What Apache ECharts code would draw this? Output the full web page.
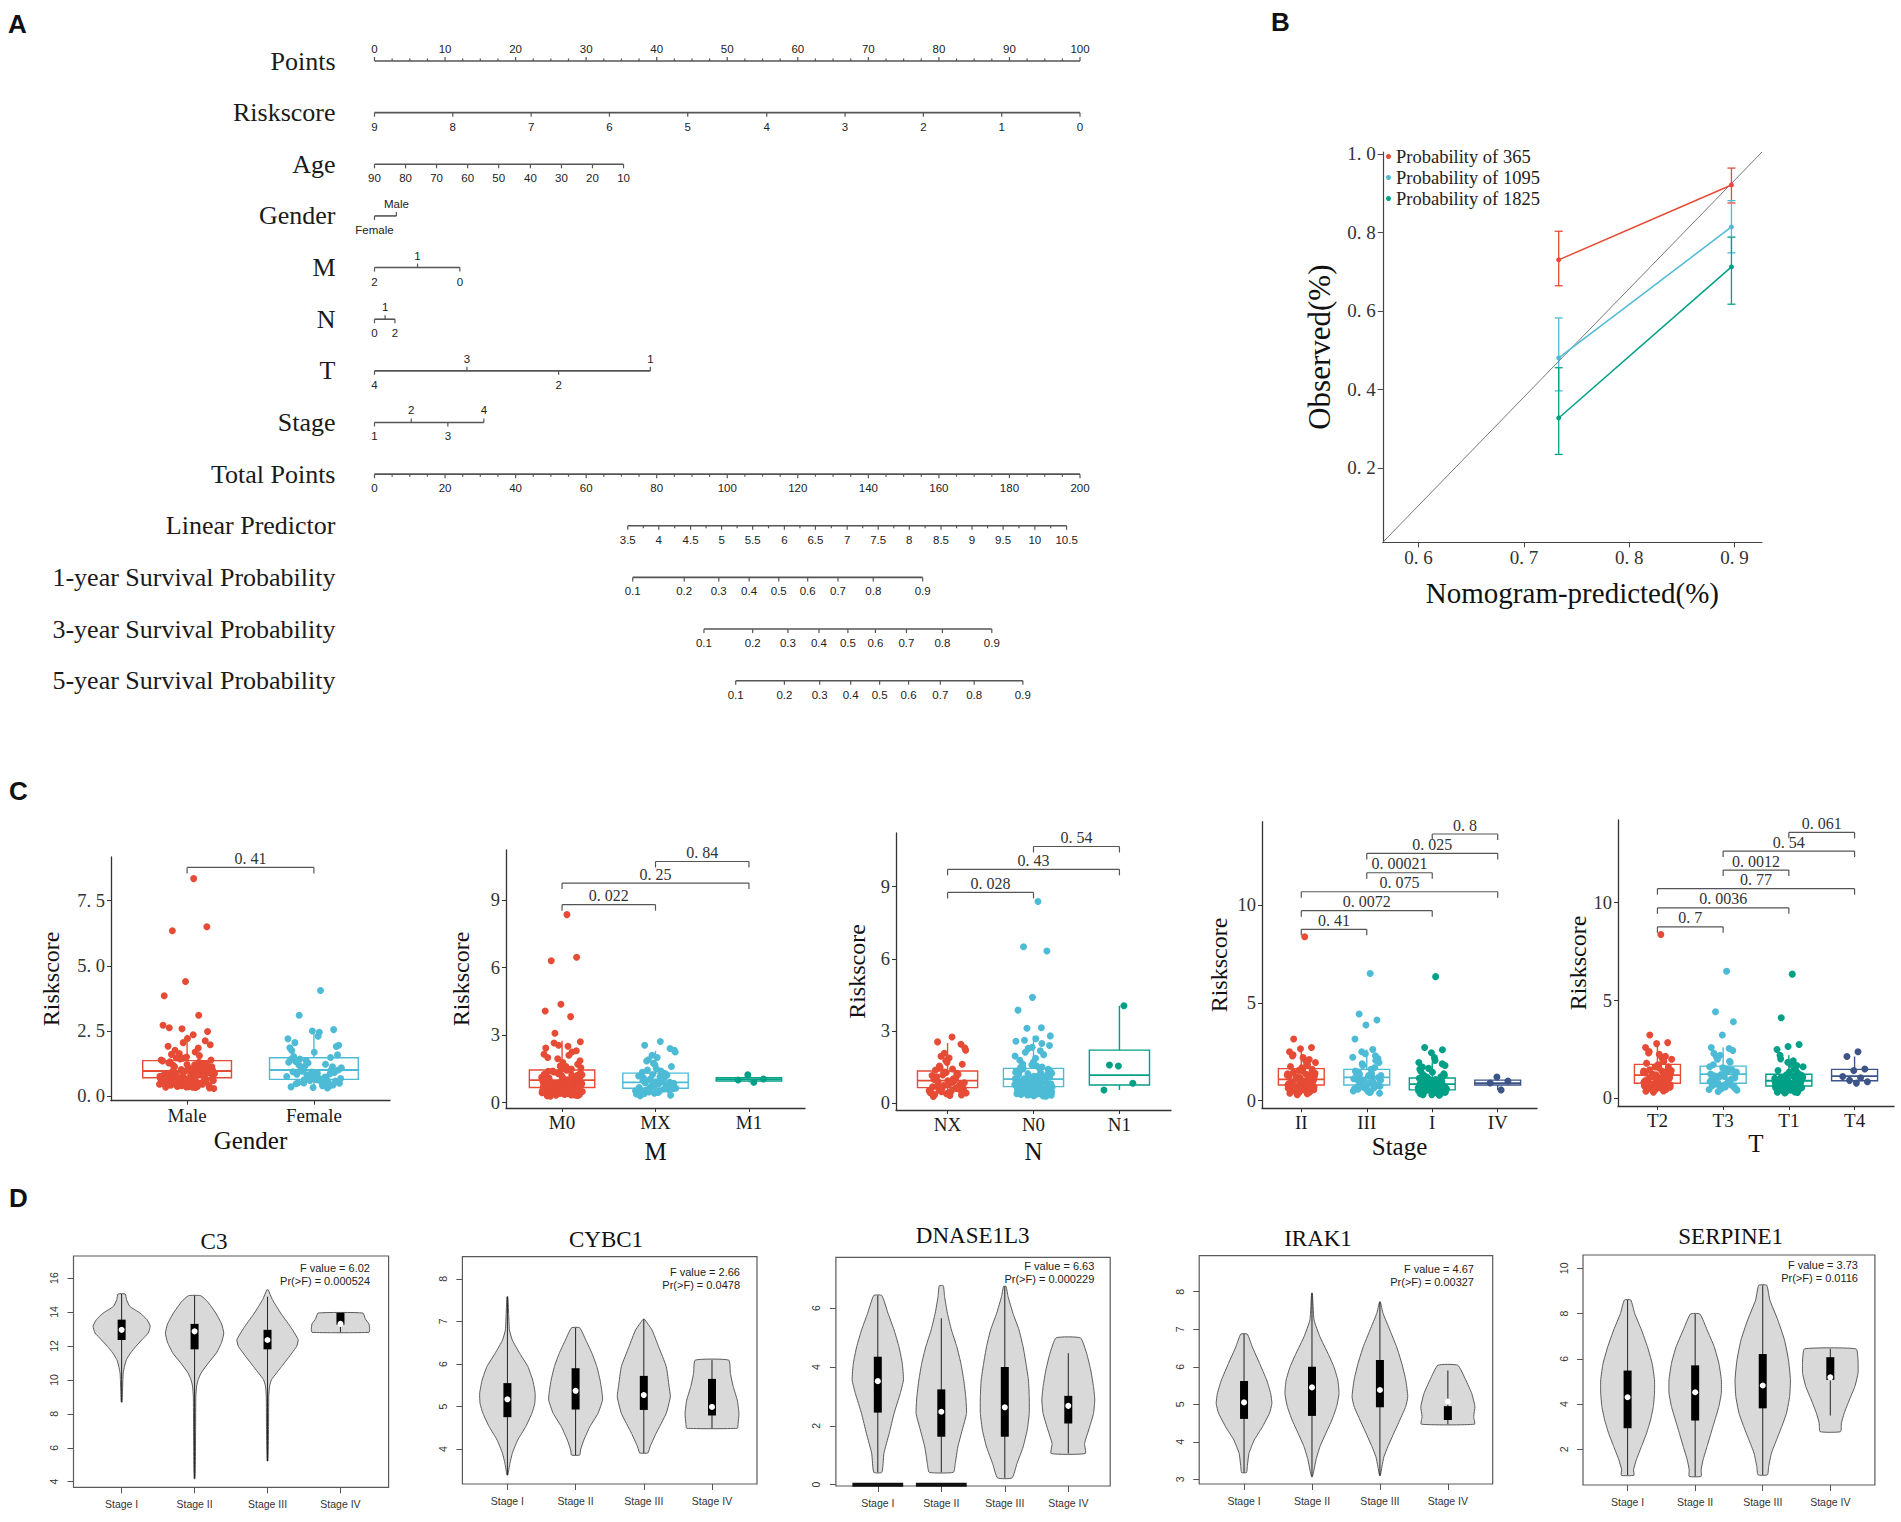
<!DOCTYPE html>
<html><head><meta charset="utf-8">
<script src="https://cdn.jsdelivr.net/npm/echarts@6/dist/echarts.min.js"></script>
<style>html,body{margin:0;padding:0;background:#fff}#c{width:1901px;height:1522px}</style>
</head><body><div id="c"></div><script>
const SERIF='"Liberation Serif","Times New Roman",Times,serif';
const SANS='"Liberation Sans",Arial,Helvetica,sans-serif';
const npg=['#E64B35','#4DBBD5','#00A087','#3C5488'];

// ---------------- Panel A : nomogram ----------------
const nomoRows=['Points','Riskscore','Age','Gender','M','N','T','Stage','Total Points','Linear Predictor','1-year Survival Probability','3-year Survival Probability','5-year Survival Probability'];
const pointsLabels=['0','10','20','30','40','50','60','70','80','90','100'];
const pointsPos=[0,10,20,30,40,50,60,70,80,90,100];
const riskLabels=['9','8','7','6','5','4','3','2','1','0'];
const riskPos=[0,11.1,22.2,33.3,44.4,55.6,66.7,77.8,88.9,100];
const ageLabels=['90','80','70','60','50','40','30','20','10'];
const agePos=[0,4.4,8.8,13.2,17.6,22.1,26.5,30.9,35.3];
const genderLabels=['Female','Male'];
const genderPos=[0,3.1];
const mLabels=['2','1','0'];
const mPos=[0,6.1,12.1];
const nLabels=['0','1','2'];
const nPos=[0,1.5,2.9];
const tLabels=['4','3','2','1'];
const tPos=[0,13.1,26.1,39.1];
const stageLabels=['1','2','3','4'];
const stagePos=[0,5.2,10.4,15.5];
const totalLabels=['0','20','40','60','80','100','120','140','160','180','200'];
const totalPos=[0,10,20,30,40,50,60,70,80,90,100];
const lpLabels=['3.5','4','4.5','5','5.5','6','6.5','7','7.5','8','8.5','9','9.5','10','10.5'];
const lpPos=[35.9,40.3,44.8,49.2,53.6,58.1,62.5,67.0,71.4,75.8,80.3,84.7,89.1,93.6,98.1];
const survLabels=['0.1','0.2','0.3','0.4','0.5','0.6','0.7','0.8','0.9'];
const surv1Pos=[36.6,43.9,48.8,53.1,57.3,61.4,65.7,70.7,77.7];
const surv3Pos=[46.7,53.6,58.6,63.0,67.1,71.0,75.4,80.5,87.5];
const surv5Pos=[51.2,58.1,63.1,67.5,71.6,75.7,80.2,85.0,91.9];

// ---------------- Panel B : calibration ----------------
const calX=[0.733,0.897];
const obs365=[0.730,0.921], lo365=[0.664,0.875], hi365=[0.803,0.964];
const obs1095=[0.480,0.814], lo1095=[0.396,0.748], hi1095=[0.582,0.881];
const obs1825=[0.327,0.712], lo1825=[0.234,0.617], hi1825=[0.455,0.788];
const calRef=[[0.566,0.01],[0.926,1.005]];
const calNames=['Probability of 365','Probability of 1095','Probability of 1825'];

// ---------------- Panel C : riskscore boxplots ----------------
const genderCats=['Male','Female'];
const maleScores=[8.35,6.35,6.5,4.4,3.85,3.1,0.42,1.12,0.78,2.62,0.55,0.91,1.38,0.33,0.67,1.05,2.21,0.48,0.84,1.63,0.29,0.96,0.71,1.24,0.58,2.72,0.37,1.47,0.88,0.62,1.91,0.45,1.02,0.76,0.52,1.18,2.48,0.35,0.81,1.55,0.64,0.99,0.4,1.31,0.73,2.05,0.57,0.93,1.76,0.31,1.08,0.69,0.5,1.42,0.86,2.35,0.61,1.15,0.44,0.79,1.84,0.38,0.97,0.66,1.27,0.54,2.58,0.74,1.69,0.47,0.9,1.21,0.34,0.83,1.52,0.6,1.0,0.41,2.12,0.7,1.35,0.53,0.87,1.97,0.36,0.77,1.1,0.63,
 0.45,0.72,0.95,1.18,0.58,0.83,1.3,0.38,0.66,1.05,0.5,0.9,1.45,0.62,0.77,1.12,0.42,0.99,0.55,1.25,0.7,0.86,0.34,1.6,0.6,0.94,0.48,1.08,0.74,1.38,0.52,0.81,1.02,0.4,0.68,1.2,0.57,0.89,1.5,0.64];
const femaleScores=[4.05,3.1,2.55,2.5,0.35,1.22,0.62,1.95,0.88,0.47,1.48,0.72,2.2,0.4,1.05,0.58,1.68,0.93,0.31,1.36,0.67,2.45,0.51,1.12,0.8,1.85,0.43,0.98,1.58,0.64,2.05,0.38,1.27,0.75,0.55,1.42,0.9,0.33,1.75,0.69,1.15,0.49,2.3,0.84,1.01,0.6,1.3,0.45,0.95,1.9,0.7,1.52,
 0.56,0.82,1.08,0.66,1.2,0.42,0.92,1.4,0.73,0.5,1.0,0.63,1.33,0.86];
const genderBox=[[0.28,0.70,0.96,1.36,2.35],[0.3,0.64,1.0,1.47,2.58]];
const genderP=[[1,2,8.78,'0.41']];

const mCats=['M0','MX','M1'];
const m0Scores=[8.35,6.3,6.46,4.37,4.07,3.82,3.08,2.7,0.4,1.1,0.76,2.55,0.53,0.92,1.4,0.32,0.66,1.03,2.25,0.47,0.85,1.6,0.28,0.97,0.7,1.26,0.57,2.65,0.36,1.5,0.88,0.61,1.95,0.44,1.01,0.74,0.51,1.2,2.42,0.34,0.8,1.55,0.63,0.99,0.39,1.33,0.72,2.1,0.56,0.94,1.78,0.3,1.07,0.68,0.49,1.44,0.86,2.3,0.6,1.15,0.43,0.79,1.86,0.37,0.96,0.65,1.28,0.54,2.5,0.73,1.7,0.46,0.9,1.22,0.33,0.82,1.52,0.59,1.0,0.41,2.15,0.69,1.36,0.52,0.87,2.0,0.35,0.77,1.12,0.62,
 0.44,0.71,0.95,1.17,0.57,0.84,1.31,0.37,0.67,1.06,0.5,0.91,1.46,0.61,0.78,1.13,0.42,0.98,0.55,1.24,0.7,0.85,0.33,1.62,0.59,0.93,0.47,1.09,0.75,1.39,0.52,0.8,1.03,0.4,0.69,1.21,0.56,0.88,1.49,0.64];
const mxScores=[2.71,2.55,2.4,0.42,1.18,0.6,1.9,0.86,0.45,1.35,0.7,2.1,0.38,1.02,0.56,1.6,0.92,0.3,1.28,0.66,2.25,0.5,1.08,0.78,1.75,0.41,0.97,1.45,0.62,2.0,0.36,1.22,0.73,0.53,1.4,0.88,0.33,1.68,0.67,1.12,0.47,2.32,0.82,0.99,0.58,1.25,0.44,0.94,1.85,0.69,1.5,
 0.55,0.8,1.05,0.64,1.15,0.4,0.9,0.72,0.5,1.3];
const m1Scores=[0.9,1.0,1.05,1.23];
const mBox=[[0.28,0.67,1.0,1.45,2.75],[0.3,0.64,0.9,1.31,2.3],[0.9,0.96,1.04,1.11,1.23]];
const mP=[[1,2,8.79,'0.022'],[1,3,9.75,'0.25'],[2,3,10.71,'0.84']];

const nCats=['NX','N0','N1'];
const nxScores=[2.75,2.55,2.45,0.4,1.15,0.62,1.95,0.85,0.32,1.38,0.7,2.08,0.46,1.02,0.55,1.62,0.93,0.28,1.25,0.66,2.2,0.5,1.1,0.79,1.78,0.42,0.98,1.48,0.6,1.88,0.36,1.2,0.74,0.53,1.42,0.89,0.34,1.7,0.68,1.06,0.48,2.3,0.83,0.96,0.58,1.3,0.45,0.91,1.55,
 0.52,0.77,1.0,0.63,1.18,0.43,0.87,0.7,0.56,1.28];
const n0Scores=[8.38,6.5,6.33,4.4,3.87,3.14,3.12,2.8,2.68,0.41,1.11,0.77,2.58,0.54,0.92,1.41,0.31,0.66,1.04,2.28,0.47,0.85,1.63,0.29,0.97,0.71,1.27,0.57,2.4,0.36,1.5,0.88,0.62,1.96,0.44,1.02,0.75,0.51,1.19,2.48,0.34,0.81,1.56,0.63,0.99,0.39,1.34,0.72,2.12,0.56,0.94,1.79,0.3,1.08,0.68,0.49,1.44,0.86,2.33,0.6,1.16,0.43,0.79,1.87,0.37,0.96,0.65,1.29,0.53,2.62,0.74,1.71,0.46,0.9,1.23,0.33,0.83,1.53,0.59,1.0,0.4,2.18,0.7,1.37,0.52,0.87,2.02,0.35,0.77,1.13,
 0.45,0.72,0.95,1.18,0.58,0.84,1.32,0.38,0.67,1.05,0.5,0.9,1.46,0.62,0.78,1.12,0.42,0.99,0.55,1.25,0.7,0.86,0.34,1.6,0.6,0.93,0.48,1.09,0.74,1.39,0.52,0.81,1.02,0.41,0.68,1.21,0.57,0.89,1.51,0.64];
const n1Scores=[4.05,1.59,0.83,1.55,0.55];
const nBox=[[0.28,0.65,0.94,1.34,2.5],[0.29,0.69,1.0,1.45,2.8],[0.55,0.76,1.17,2.21,4.05]];
const nP=[[1,2,8.76,'0.028'],[1,3,9.72,'0.43'],[2,3,10.67,'0.54']];

const stageCats=['II','III','I','IV'];
const stage2Scores=[8.38,3.15,2.72,2.65,2.5,0.35,1.22,0.7,2.2,0.95,0.45,1.55,0.8,2.05,0.52,1.12,0.62,1.75,1.02,0.3,1.4,0.74,2.35,0.58,1.18,0.88,1.9,0.48,1.05,1.62,0.66,2.1,0.4,1.3,0.78,0.6,1.48,0.92,0.38,1.82,0.72,1.25,0.55,2.28,0.85,1.08,0.64,1.35,0.5,0.98,1.68,0.76,1.15,0.42,1.95,1.0,1.45,0.82,
 0.9,1.28,0.68,1.1,0.56,1.5,0.84,1.2,0.62,1.38,0.97,0.73,1.6,1.04,0.8];
const stage3Scores=[6.5,4.43,4.12,3.87,3.15,2.62,2.5,0.38,1.25,0.72,2.3,0.98,0.5,1.6,0.82,2.15,0.56,1.15,0.65,1.8,1.05,0.42,1.45,0.78,2.4,0.6,1.2,0.9,1.95,0.48,1.08,1.7,0.68,2.22,0.45,1.35,0.8,0.62,1.52,0.95,1.88,0.74,1.3,0.58,2.05,0.86,1.12,1.4,1.0,
 1.18,0.84,1.42,0.7,1.02,1.28,0.92];
const stage1Scores=[6.34,2.72,2.6,2.45,0.35,1.0,0.55,1.8,0.78,0.3,1.22,0.62,1.95,0.42,0.92,0.5,1.45,0.85,0.28,1.1,0.6,2.05,0.46,0.98,0.7,1.6,0.38,0.88,1.3,0.57,1.72,0.33,1.05,0.66,0.48,1.25,0.8,0.31,1.5,0.63,1.02,0.44,2.2,0.75,0.9,0.53,1.15,0.4,0.83,1.38,0.68,0.95,0.36,1.65,0.59,1.08,0.47,1.88,0.73,0.86,0.52,1.2,0.43,0.76,1.33,
 0.61,0.82,0.49,1.04,0.71,0.56,0.94,0.39,0.79,1.12,0.64,0.87,0.45,1.0,0.69,0.54,0.91,1.18,0.6,0.77];
const stage4Scores=[0.55,0.9,1.0,1.21];
const stageBox=[[0.3,0.8,1.09,1.64,2.65],[0.38,0.8,1.19,1.6,2.62],[0.28,0.55,0.85,1.16,1.95],[0.55,0.8,0.9,1.05,1.21]];
const stageP=[[1,2,8.76,'0.41'],[1,3,9.71,'0.0072'],[1,4,10.68,'0.075'],[2,3,11.65,'0.00021'],[2,4,12.64,'0.025'],[3,4,13.63,'0.8']];

const tCats=['T2','T3','T1','T4'];
const t2Scores=[8.38,3.24,2.85,2.8,2.6,0.38,1.25,0.7,2.25,0.98,0.45,1.6,0.82,2.1,0.52,1.15,0.62,1.8,1.05,0.32,1.42,0.76,2.4,0.58,1.2,0.9,1.95,0.48,1.08,1.68,0.66,2.15,0.4,1.32,0.79,0.6,1.5,0.94,0.36,1.88,0.73,1.28,0.55,2.32,0.86,1.1,0.64,1.38,0.5,1.0,1.72,0.74,1.18,0.43,2.0,1.02,1.46,0.84,
 0.92,1.3,0.69,1.12,0.57,1.55,0.86,1.22,0.63,1.4,0.97,0.75,1.62,1.06,0.81];
const t3Scores=[6.5,4.43,3.92,3.24,2.6,2.55,0.35,1.3,0.7,2.3,1.0,0.48,1.62,0.8,2.1,0.55,1.2,0.65,1.85,1.08,0.42,1.5,0.76,2.45,0.6,1.25,0.9,2.0,0.5,1.12,1.72,0.68,2.2,0.45,1.4,0.82,0.62,1.56,0.95,1.9,0.74,1.35,0.58,1.15,1.45,
 1.22,0.86,1.48,0.72,1.04];
const t1Scores=[6.35,4.12,2.75,2.65,2.5,0.33,0.98,0.55,1.75,0.78,0.3,1.2,0.62,1.92,0.42,0.9,0.5,1.42,0.84,0.27,1.08,0.6,2.02,0.46,0.96,0.7,1.58,0.38,0.87,1.28,0.57,1.68,0.33,1.03,0.66,0.48,1.22,0.8,0.31,1.48,0.63,1.0,0.44,2.2,0.75,0.89,0.53,1.12,0.4,0.82,1.36,0.68,0.94,0.36,1.62,0.59,1.06,0.47,1.85,0.72,0.85,0.52,1.18,0.43,0.76,1.32,
 0.61,0.83,0.49,1.02,0.7,0.56,0.93,0.39,0.79,1.1,0.65,0.88,0.45,0.99,0.71,0.54,0.91,1.15,0.6,0.77];
const t4Scores=[2.38,2.14,1.5,1.42,1.12,1.05,0.92,0.85,0.78];
const tBox=[[0.32,0.77,1.19,1.74,2.85],[0.35,0.77,1.24,1.65,2.6],[0.27,0.63,0.9,1.23,2.2],[0.78,0.9,1.14,1.48,2.14]];
const tP=[[1,2,8.77,'0.7'],[1,3,9.74,'0.0036'],[1,4,10.72,'0.77'],[2,3,11.67,'0.0012'],[2,4,12.64,'0.54'],[3,4,13.6,'0.061']];

// ---------------- Panel D : violins ----------------
const stageNames=['Stage I','Stage II','Stage III','Stage IV'];
const c3Shapes=[
 [[15.06,0.05],[14.73,0.067],[14.33,0.112],[13.94,0.252],[13.55,0.347],[13.16,0.392],[12.76,0.364],[12.37,0.28],[11.98,0.196],[11.59,0.123],[11.2,0.067],[10.8,0.039],[10.41,0.022],[10.02,0.017],[9.24,0.011],[8.69,0.006]],
 [[14.96,0.084],[14.6,0.18],[13.94,0.29],[13.3,0.37],[12.76,0.4],[12.2,0.37],[11.59,0.3],[11.0,0.19],[10.41,0.09],[10.02,0.05],[9.63,0.028],[9.04,0.017],[7.08,0.014],[5.1,0.011],[4.18,0.006]],
 [[15.31,0.008],[14.73,0.067],[13.94,0.18],[13.16,0.31],[12.37,0.42],[11.98,0.4],[11.59,0.336],[10.8,0.196],[10.02,0.056],[9.63,0.028],[9.04,0.017],[7.08,0.014],[5.22,0.006]],
 [[13.94,0.308],[13.6,0.34],[13.3,0.39],[13.0,0.4],[12.8,0.39]]];
const c3Box=[[8.69,12.35,12.95,13.55,15.06],[4.18,11.8,12.86,13.3,14.96],[5.22,11.8,12.35,12.95,14.9],[12.8,13.25,13.3,13.95,13.95]];
const cybc1Shapes=[
 [[7.58,0.006],[7.19,0.018],[6.8,0.03],[6.56,0.072],[6.25,0.18],[5.94,0.3],[5.62,0.371],[5.31,0.407],[5.07,0.401],[4.84,0.359],[4.53,0.269],[4.21,0.15],[3.9,0.072],[3.66,0.036],[3.39,0.006]],
 [[6.85,0.06],[6.56,0.15],[6.25,0.24],[5.94,0.311],[5.62,0.359],[5.31,0.389],[5.15,0.395],[4.84,0.329],[4.53,0.21],[4.21,0.12],[3.98,0.072],[3.86,0.06]],
 [[7.05,0.01],[6.8,0.12],[6.41,0.216],[5.94,0.329],[5.47,0.371],[5.23,0.389],[4.84,0.329],[4.37,0.18],[4.05,0.09],[3.91,0.06]],
 [[6.09,0.246],[5.78,0.27],[5.47,0.311],[5.15,0.371],[4.84,0.395],[4.6,0.383],[4.49,0.371]]];
const cybc1Box=[[3.39,4.75,5.17,5.55,7.58],[3.86,4.93,5.37,5.9,6.85],[3.91,4.92,5.27,5.72,7.05],[4.49,4.79,4.99,5.65,6.09]];
const dnaseShapes=[
 [[6.43,0.064],[5.83,0.16],[5.26,0.256],[4.69,0.333],[4.13,0.385],[3.56,0.404],[3.1,0.353],[2.42,0.256],[1.74,0.179],[1.06,0.096],[0.42,0.064]],
 [[6.76,0.032],[6.4,0.051],[5.83,0.096],[5.26,0.16],[4.69,0.244],[4.13,0.308],[3.56,0.353],[2.99,0.385],[2.42,0.397],[1.86,0.33],[1.28,0.26],[0.72,0.22],[0.42,0.19]],
 [[6.74,0.02],[6.4,0.051],[5.83,0.128],[5.26,0.224],[4.69,0.288],[4.13,0.333],[3.56,0.372],[2.99,0.385],[2.42,0.385],[1.86,0.353],[1.28,0.288],[0.72,0.192],[0.23,0.115]],
 [[4.99,0.192],[4.47,0.288],[3.9,0.353],[3.33,0.397],[2.88,0.417],[2.42,0.397],[1.86,0.321],[1.4,0.256],[1.06,0.269]]];
const dnaseBox=[[0.42,2.45,3.52,4.35,6.43],[0.42,1.63,2.48,3.24,5.66],[0.23,1.63,2.63,4.0,6.74],[1.06,2.08,2.68,3.02,4.47]];
const dnaseZero=[[1,0,0.4],[2,0,0.4]];
const irak1Shapes=[
 [[6.87,0.048],[6.53,0.121],[6.09,0.229],[5.65,0.332],[5.29,0.392],[5.02,0.41],[4.76,0.374],[4.4,0.271],[4.05,0.151],[3.69,0.072],[3.34,0.048],[3.18,0.036]],
 [[7.96,0.006],[7.25,0.03],[6.8,0.117],[6.36,0.234],[6.0,0.322],[5.65,0.38],[5.29,0.398],[4.94,0.363],[4.58,0.293],[4.23,0.205],[3.87,0.117],[3.52,0.059],[3.25,0.03],[3.07,0.006]],
 [[7.73,0.006],[7.42,0.047],[6.98,0.146],[6.53,0.246],[6.09,0.322],[5.65,0.38],[5.2,0.41],[4.94,0.38],[4.58,0.293],[4.23,0.205],[3.87,0.117],[3.6,0.059],[3.34,0.03],[3.1,0.006]],
 [[6.04,0.146],[5.65,0.263],[5.29,0.351],[4.94,0.398],[4.67,0.38],[4.47,0.392]]];
const irak1Box=[[3.18,4.61,5.05,5.62,6.87],[3.07,4.69,5.45,6.0,7.96],[3.1,4.92,5.38,6.18,7.73],[4.47,4.58,5.07,4.95,5.9]];
const serpShapes=[
 [[8.6,0.047],[8.01,0.105],[7.28,0.205],[6.54,0.293],[5.8,0.363],[5.07,0.398],[4.48,0.398],[3.89,0.381],[3.3,0.34],[2.71,0.281],[2.12,0.205],[1.53,0.129],[1.09,0.088],[0.85,0.094]],
 [[7.98,0.07],[7.28,0.176],[6.54,0.281],[5.8,0.351],[5.07,0.387],[4.48,0.387],[3.89,0.351],[3.3,0.293],[2.71,0.234],[2.12,0.176],[1.53,0.117],[1.09,0.088],[0.8,0.088]],
 [[9.25,0.059],[8.6,0.105],[7.72,0.223],[6.83,0.322],[5.95,0.381],[5.07,0.41],[4.33,0.398],[3.59,0.351],[3.0,0.281],[2.42,0.205],[1.83,0.129],[1.24,0.088],[0.87,0.07]],
 [[6.44,0.381],[5.95,0.41],[5.36,0.41],[4.77,0.363],[4.18,0.281],[3.59,0.205],[3.15,0.164],[2.78,0.152]]];
const serpBox=[[0.85,2.93,4.3,5.48,8.6],[0.8,3.27,4.52,5.71,7.98],[0.87,3.81,4.82,6.21,9.25],[3.49,5.07,5.18,6.07,6.44]];

// ================= build option =================
function txt(x,y,text,o){
  o=o||{};
  return {type:'text',x:x,y:y,z:50,style:{text:text,fill:o.fill||'#111',fontSize:o.size||12,fontFamily:o.family||SANS,fontWeight:o.weight||'normal',
    align:o.align||'left',textAlign:o.align||'left',verticalAlign:o.va||'middle',textVerticalAlign:o.va||'middle'}};
}
const grids=[], xAxes=[], yAxes=[], series=[], graphics=[];
function G(l,r,t,b,ex){grids.push(Object.assign({left:l,width:r-l,top:t,height:b-t,containLabel:false},ex||{}));return grids.length-1;}

// ---- A
const gA=G(374.5,1080,35.2,706.5);
xAxes.push({gridIndex:gA,type:'value',min:0,max:100,show:false});
yAxes.push({gridIndex:gA,type:'category',data:nomoRows,inverse:true,axisLine:{show:false},axisTick:{show:false},splitLine:{show:false},
  axisLabel:{interval:0,fontFamily:SERIF,fontSize:26,color:'#1a1a1a',margin:39}});
const nomoSpec=[
 {labels:pointsLabels,pos:pointsPos,side:[1],minor:3},
 {labels:riskLabels,pos:riskPos,side:[-1],minor:0},
 {labels:ageLabels,pos:agePos,side:[-1],minor:0},
 {labels:genderLabels,pos:genderPos,side:[-1,1],minor:0},
 {labels:mLabels,pos:mPos,side:[-1,1,-1],minor:0},
 {labels:nLabels,pos:nPos,side:[-1,1,-1],minor:0},
 {labels:tLabels,pos:tPos,side:[-1,1,-1,1],minor:0},
 {labels:stageLabels,pos:stagePos,side:[-1,1,-1,1],minor:0},
 {labels:totalLabels,pos:totalPos,side:[-1],minor:3},
 {labels:lpLabels,pos:lpPos,side:[-1],minor:1},
 {labels:survLabels,pos:surv1Pos,side:[-1],minor:0},
 {labels:survLabels,pos:surv3Pos,side:[-1],minor:0},
 {labels:survLabels,pos:surv5Pos,side:[-1],minor:0}];
const nomoTicks=[], nomoLines=[];
nomoSpec.forEach((s,r)=>{
  nomoLines.push([s.pos[0],r,s.pos[s.pos.length-1]]);
  s.pos.forEach((p,i)=>{
    const d=s.side.length>1?s.side[i]:s.side[0];
    nomoTicks.push({v:[p,r],dir:d,major:1,text:s.labels[i]});
    if(s.minor&&i<s.pos.length-1){const q=s.pos[i+1];for(let k=1;k<=s.minor;k++)nomoTicks.push({v:[p+(q-p)*k/(s.minor+1),r],dir:d,major:0,text:''});}
  });
});
series.push({type:'custom',xAxisIndex:0,yAxisIndex:0,clip:false,silent:true,data:nomoLines,encode:{x:[0,2],y:1},
  renderItem:(pa,api)=>{const a=api.coord([api.value(0),api.value(1)]),b=api.coord([api.value(2),api.value(1)]);
    return {type:'line',shape:{x1:a[0],y1:a[1],x2:b[0],y2:b[1]},style:{stroke:'#555',lineWidth:1.6}};}});
series.push({type:'custom',xAxisIndex:0,yAxisIndex:0,clip:false,silent:true,data:nomoTicks.map(t=>t.v),
  renderItem:(pa,api)=>{const t=nomoTicks[pa.dataIndex];const p=api.coord(t.v);const len=t.major?4:2.5;
    const ch=[{type:'line',shape:{x1:p[0],y1:p[1],x2:p[0],y2:p[1]-t.dir*len},style:{stroke:'#555',lineWidth:1.2}}];
    if(t.text)ch.push({type:'text',x:p[0],y:p[1]-t.dir*(t.dir>0?12:14),style:{text:t.text,fill:'#222',fontSize:11.5,fontFamily:SANS,align:'center',textAlign:'center',verticalAlign:'middle',textVerticalAlign:'middle'}});
    return {type:'group',children:ch};}});

// ---- B
const gB=G(1382.8,1762,152,542.3);
const fmtDot=v=>v.toFixed(1).replace('.','. ');
xAxes.push({gridIndex:gB,type:'value',min:0.566,max:0.926,splitLine:{show:false},
  axisLine:{onZero:false,lineStyle:{color:'#444',width:1.2}},axisTick:{customValues:[0.6,0.7,0.8,0.9],length:5,lineStyle:{color:'#444'}},
  axisLabel:{customValues:[0.6,0.7,0.8,0.9],formatter:fmtDot,fontFamily:SERIF,fontSize:19,color:'#333',margin:6},
  name:'Nomogram-predicted(%)',nameLocation:'middle',nameGap:36,nameTextStyle:{fontFamily:SERIF,fontSize:29,color:'#111'}});
yAxes.push({gridIndex:gB,type:'value',min:0.01,max:1.005,splitLine:{show:false},
  axisLine:{onZero:false,lineStyle:{color:'#444',width:1.2}},axisTick:{customValues:[0.2,0.4,0.6,0.8,1.0],length:5,lineStyle:{color:'#444'}},
  axisLabel:{customValues:[0.2,0.4,0.6,0.8,1.0],formatter:fmtDot,fontFamily:SERIF,fontSize:19,color:'#333',margin:7},
  name:'Observed(%)',nameLocation:'middle',nameGap:48,nameTextStyle:{fontFamily:SERIF,fontSize:31,color:'#111'}});
series.push({type:'line',xAxisIndex:gB,yAxisIndex:gB,data:calRef,symbol:'none',silent:true,lineStyle:{color:'#777',width:1}});
const calSets=[[obs365,lo365,hi365],[obs1095,lo1095,hi1095],[obs1825,lo1825,hi1825]];
calSets.forEach((s,k)=>{
  series.push({type:'custom',xAxisIndex:gB,yAxisIndex:gB,silent:true,data:calX.map((x,i)=>[x,s[1][i],s[2][i]]),
    renderItem:(pa,api)=>{const a=api.coord([api.value(0),api.value(1)]),b=api.coord([api.value(0),api.value(2)]);const st={stroke:npg[k],lineWidth:1.3};
      return {type:'group',children:[{type:'line',shape:{x1:a[0],y1:a[1],x2:b[0],y2:b[1]},style:st},
        {type:'line',shape:{x1:a[0]-4,y1:a[1],x2:a[0]+4,y2:a[1]},style:st},{type:'line',shape:{x1:b[0]-4,y1:b[1],x2:b[0]+4,y2:b[1]},style:st}]};}});
  series.push({type:'line',name:calNames[k],xAxisIndex:gB,yAxisIndex:gB,data:calX.map((x,i)=>[x,s[0][i]]),symbol:'circle',symbolSize:5,
    itemStyle:{color:npg[k]},lineStyle:{color:npg[k],width:1.5},z:5});
});

// ---- C
const jit=i=>((((i+1)*0.6180339887)%1)-0.5)*0.44;
const cPanels=[
 {box:[111,390,857,1100.7],cats:genderCats,groups:[maleScores,femaleScores],stats:genderBox,pv:genderP,ymin:-0.18,ymax:9.18,ticks:[0,2.5,5,7.5],fmt:v=>v.toFixed(1).replace('.','. '),xname:'Gender',xgap:27,ygap:48},
 {box:[506,805,850,1108],cats:mCats,groups:[m0Scores,mxScores,m1Scores],stats:mBox,pv:mP,ymin:-0.24,ymax:11.22,ticks:[0,3,6,9],fmt:v=>String(v),xname:'M',xgap:31,ygap:33},
 {box:[896,1171,833,1110],cats:nCats,groups:[nxScores,n0Scores,n1Scores],stats:nBox,pv:nP,ymin:-0.28,ymax:11.23,ticks:[0,3,6,9],fmt:v=>String(v),xname:'N',xgap:29,ygap:27},
 {box:[1262,1537,821.7,1108.3],cats:stageCats,groups:[stage2Scores,stage3Scores,stage1Scores,stage4Scores],stats:stageBox,pv:stageP,ymin:-0.39,ymax:14.26,ticks:[0,5,10],fmt:v=>String(v),xname:'Stage',xgap:26,ygap:31},
 {box:[1618,1894,820,1106],cats:tCats,groups:[t2Scores,t3Scores,t1Scores,t4Scores],stats:tBox,pv:tP,ymin:-0.39,ymax:14.23,ticks:[0,5,10],fmt:v=>String(v),xname:'T',xgap:25,ygap:28}];
cPanels.forEach(P=>{
  const g=G(P.box[0],P.box[1],P.box[2],P.box[3]);
  const n=P.cats.length, idx=P.cats.map((c,i)=>i+1);
  xAxes.push({gridIndex:g,type:'value',min:0.4,max:n+0.6,splitLine:{show:false},
    axisLine:{onZero:false,lineStyle:{color:'#333',width:1.3}},axisTick:{customValues:idx,length:4,lineStyle:{color:'#333'}},
    axisLabel:{customValues:idx,formatter:v=>P.cats[Math.round(v)-1],fontFamily:SERIF,fontSize:19,color:'#1a1a1a',margin:5},
    name:P.xname,nameLocation:'middle',nameGap:P.xgap,nameTextStyle:{fontFamily:SERIF,fontSize:25,color:'#111'}});
  yAxes.push({gridIndex:g,type:'value',min:P.ymin,max:P.ymax,splitLine:{show:false},
    axisLine:{onZero:false,lineStyle:{color:'#333',width:1.3}},axisTick:{customValues:P.ticks,length:4,lineStyle:{color:'#333'}},
    axisLabel:{customValues:P.ticks,formatter:P.fmt,fontFamily:SERIF,fontSize:18.5,color:'#333',margin:6},
    name:'Riskscore',nameLocation:'middle',nameGap:P.ygap,nameTextStyle:{fontFamily:SERIF,fontSize:24,color:'#111'}});
  series.push({type:'custom',xAxisIndex:g,yAxisIndex:g,silent:true,z:2,data:P.stats.map((b,i)=>[i+1].concat(b)),
    renderItem:(pa,api)=>{const x=api.value(0);const c=npg[pa.dataIndex];const hw=api.size([0.7,0])[0]/2;
      const lo=api.coord([x,api.value(1)]),q1=api.coord([x,api.value(2)]),md=api.coord([x,api.value(3)]),q3=api.coord([x,api.value(4)]),hi=api.coord([x,api.value(5)]);
      const st={stroke:c,fill:'none',lineWidth:1.4};
      return {type:'group',children:[
        {type:'rect',shape:{x:q1[0]-hw,y:q3[1],width:2*hw,height:q1[1]-q3[1]},style:st},
        {type:'line',shape:{x1:md[0]-hw,y1:md[1],x2:md[0]+hw,y2:md[1]},style:{stroke:c,lineWidth:1.8}},
        {type:'line',shape:{x1:q3[0],y1:q3[1],x2:hi[0],y2:hi[1]},style:st},
        {type:'line',shape:{x1:q1[0],y1:q1[1],x2:lo[0],y2:lo[1]},style:st}]};}});
  P.groups.forEach((arr,j)=>{
    series.push({type:'scatter',xAxisIndex:g,yAxisIndex:g,silent:true,z:3,symbolSize:7,itemStyle:{color:npg[j],opacity:1},
      data:arr.map((v,i)=>[j+1+jit(i),v])});
  });
  series.push({type:'custom',xAxisIndex:g,yAxisIndex:g,silent:true,clip:false,z:4,data:P.pv.map(b=>[b[0],b[2],b[1]]),
    renderItem:(pa,api)=>{const a=api.coord([api.value(0),api.value(1)]),b=api.coord([api.value(2),api.value(1)]);const st={stroke:'#555',lineWidth:1.2};
      return {type:'group',children:[
        {type:'line',shape:{x1:a[0],y1:a[1],x2:b[0],y2:b[1]},style:st},
        {type:'line',shape:{x1:a[0],y1:a[1],x2:a[0],y2:a[1]+6},style:st},
        {type:'line',shape:{x1:b[0],y1:b[1],x2:b[0],y2:b[1]+6},style:st},
        {type:'text',x:(a[0]+b[0])/2,y:a[1]-1,style:{text:P.pv[pa.dataIndex][3].replace('.','. '),fill:'#333',fontSize:16,fontFamily:SERIF,align:'center',textAlign:'center',verticalAlign:'bottom',textVerticalAlign:'bottom'}}]};}});
});

// ---- D
const dPanels=[
 {box:[73.5,388.6,1256,1487.3],ymin:3.67,ymax:17.3,ticks:[4,6,8,10,12,14,16],shapes:c3Shapes,stats:c3Box,title:'C3',tx:214,ty:1241.7,f:'F value = 6.02',p:'Pr(>F) = 0.000524',fx:370,fy:1268.3},
 {box:[462.4,757,1256.7,1484],ymin:3.18,ymax:8.52,ticks:[4,5,6,7,8],shapes:cybc1Shapes,stats:cybc1Box,title:'CYBC1',tx:606,ty:1239,f:'F value = 2.66',p:'Pr(>F) = 0.0478',fx:740,fy:1271.7},
 {box:[835.9,1110.2,1257.3,1486],ymin:-0.045,ymax:7.73,ticks:[0,2,4,6],shapes:dnaseShapes,stats:dnaseBox,zero:dnaseZero,title:'DNASE1L3',tx:972.7,ty:1235,f:'F value = 6.63',p:'Pr(>F) = 0.000229',fx:1094.3,fy:1266},
 {box:[1199.2,1492.7,1255.7,1484],ymin:2.875,ymax:8.96,ticks:[3,4,5,6,7,8],shapes:irak1Shapes,stats:irak1Box,title:'IRAK1',tx:1318,ty:1238,f:'F value = 4.67',p:'Pr(>F) = 0.00327',fx:1474,fy:1269.3},
 {box:[1583,1874.9,1255,1485],ymin:0.42,ymax:10.59,ticks:[2,4,6,8,10],shapes:serpShapes,stats:serpBox,title:'SERPINE1',tx:1730.7,ty:1236.7,f:'F value = 3.73',p:'Pr(>F) = 0.0116',fx:1858,fy:1265}];
dPanels.forEach(P=>{
  const g=G(P.box[0],P.box[1],P.box[2],P.box[3],{show:true,borderColor:'#5a5a5a',borderWidth:1.2,backgroundColor:'transparent'});
  xAxes.push({gridIndex:g,type:'value',min:0.34,max:4.66,splitLine:{show:false},axisLine:{show:false,onZero:false},
    axisTick:{customValues:[1,2,3,4],length:6,lineStyle:{color:'#555'}},
    axisLabel:{customValues:[1,2,3,4],formatter:v=>stageNames[Math.round(v)-1],fontFamily:SANS,fontSize:10.5,color:'#333',margin:11}});
  yAxes.push({gridIndex:g,type:'value',min:P.ymin,max:P.ymax,splitLine:{show:false},axisLine:{show:false,onZero:false},
    axisTick:{customValues:P.ticks,length:6,lineStyle:{color:'#555'}},
    axisLabel:{customValues:P.ticks,rotate:90,fontFamily:SANS,fontSize:10.5,color:'#333',margin:14}});
  if(P.zero){
    series.push({type:'custom',xAxisIndex:g,yAxisIndex:g,silent:true,z:3,data:P.zero,
      renderItem:(pa,api)=>{const a=api.coord([api.value(0)-api.value(2),api.value(1)]),b=api.coord([api.value(0)+api.value(2),api.value(1)]);
        return {type:'rect',shape:{x:a[0],y:a[1]-2,width:b[0]-a[0],height:4},style:{fill:'#111'}};}});
  }
  series.push({type:'custom',xAxisIndex:g,yAxisIndex:g,silent:true,z:2,data:P.stats.map((b,i)=>[i+1].concat(b)),
    renderItem:(pa,api)=>{const i=pa.dataIndex,cx=api.value(0),sh=P.shapes[i];
      const right=sh.map(q=>api.coord([cx+q[1],q[0]])), left=sh.slice().reverse().map(q=>api.coord([cx-q[1],q[0]]));
      const lo=api.coord([cx,api.value(1)]),q1=api.coord([cx,api.value(2)]),md=api.coord([cx,api.value(3)]),q3=api.coord([cx,api.value(4)]),hi=api.coord([cx,api.value(5)]);
      return {type:'group',children:[
        {type:'polygon',shape:{points:right.concat(left),smooth:0.15},style:{fill:'#d9d9d9',stroke:'#5a5a5a',lineWidth:1}},
        {type:'line',shape:{x1:hi[0],y1:hi[1],x2:lo[0],y2:lo[1]},style:{stroke:'#222',lineWidth:1}},
        {type:'rect',shape:{x:q1[0]-4,y:Math.min(q1[1],q3[1]),width:8,height:Math.abs(q1[1]-q3[1])},style:{fill:'#000'}},
        {type:'circle',shape:{cx:md[0],cy:md[1],r:3},style:{fill:'#fff'}}]};}});
  graphics.push(txt(P.tx,P.ty,P.title,{size:23,family:SERIF,align:'center',fill:'#111'}));
  graphics.push(txt(P.fx,P.fy,P.f,{size:11,align:'right',fill:'#222'}));
  graphics.push(txt(P.fx,P.fy+12.8,P.p,{size:11,align:'right',fill:'#222'}));
});

// panel letters
graphics.push(txt(8,24,'A',{size:26,weight:'bold'}));
graphics.push(txt(1271,22,'B',{size:26,weight:'bold'}));
graphics.push(txt(9,791,'C',{size:26,weight:'bold'}));
graphics.push(txt(9,1198,'D',{size:26,weight:'bold'}));

const option={animation:false,backgroundColor:'#fff',grid:grids,xAxis:xAxes,yAxis:yAxes,series:series,
  legend:{data:calNames,left:1386,top:147,orient:'vertical',icon:'circle',itemWidth:5,itemHeight:5,itemGap:2,padding:0,
    textStyle:{fontFamily:SERIF,fontSize:18.5,color:'#222',lineHeight:19},selectedMode:false},
  graphic:{elements:graphics}};
const chart=echarts.init(document.getElementById('c'),null,{renderer:'svg',width:1901,height:1522});
chart.setOption(option);
</script></body></html>
